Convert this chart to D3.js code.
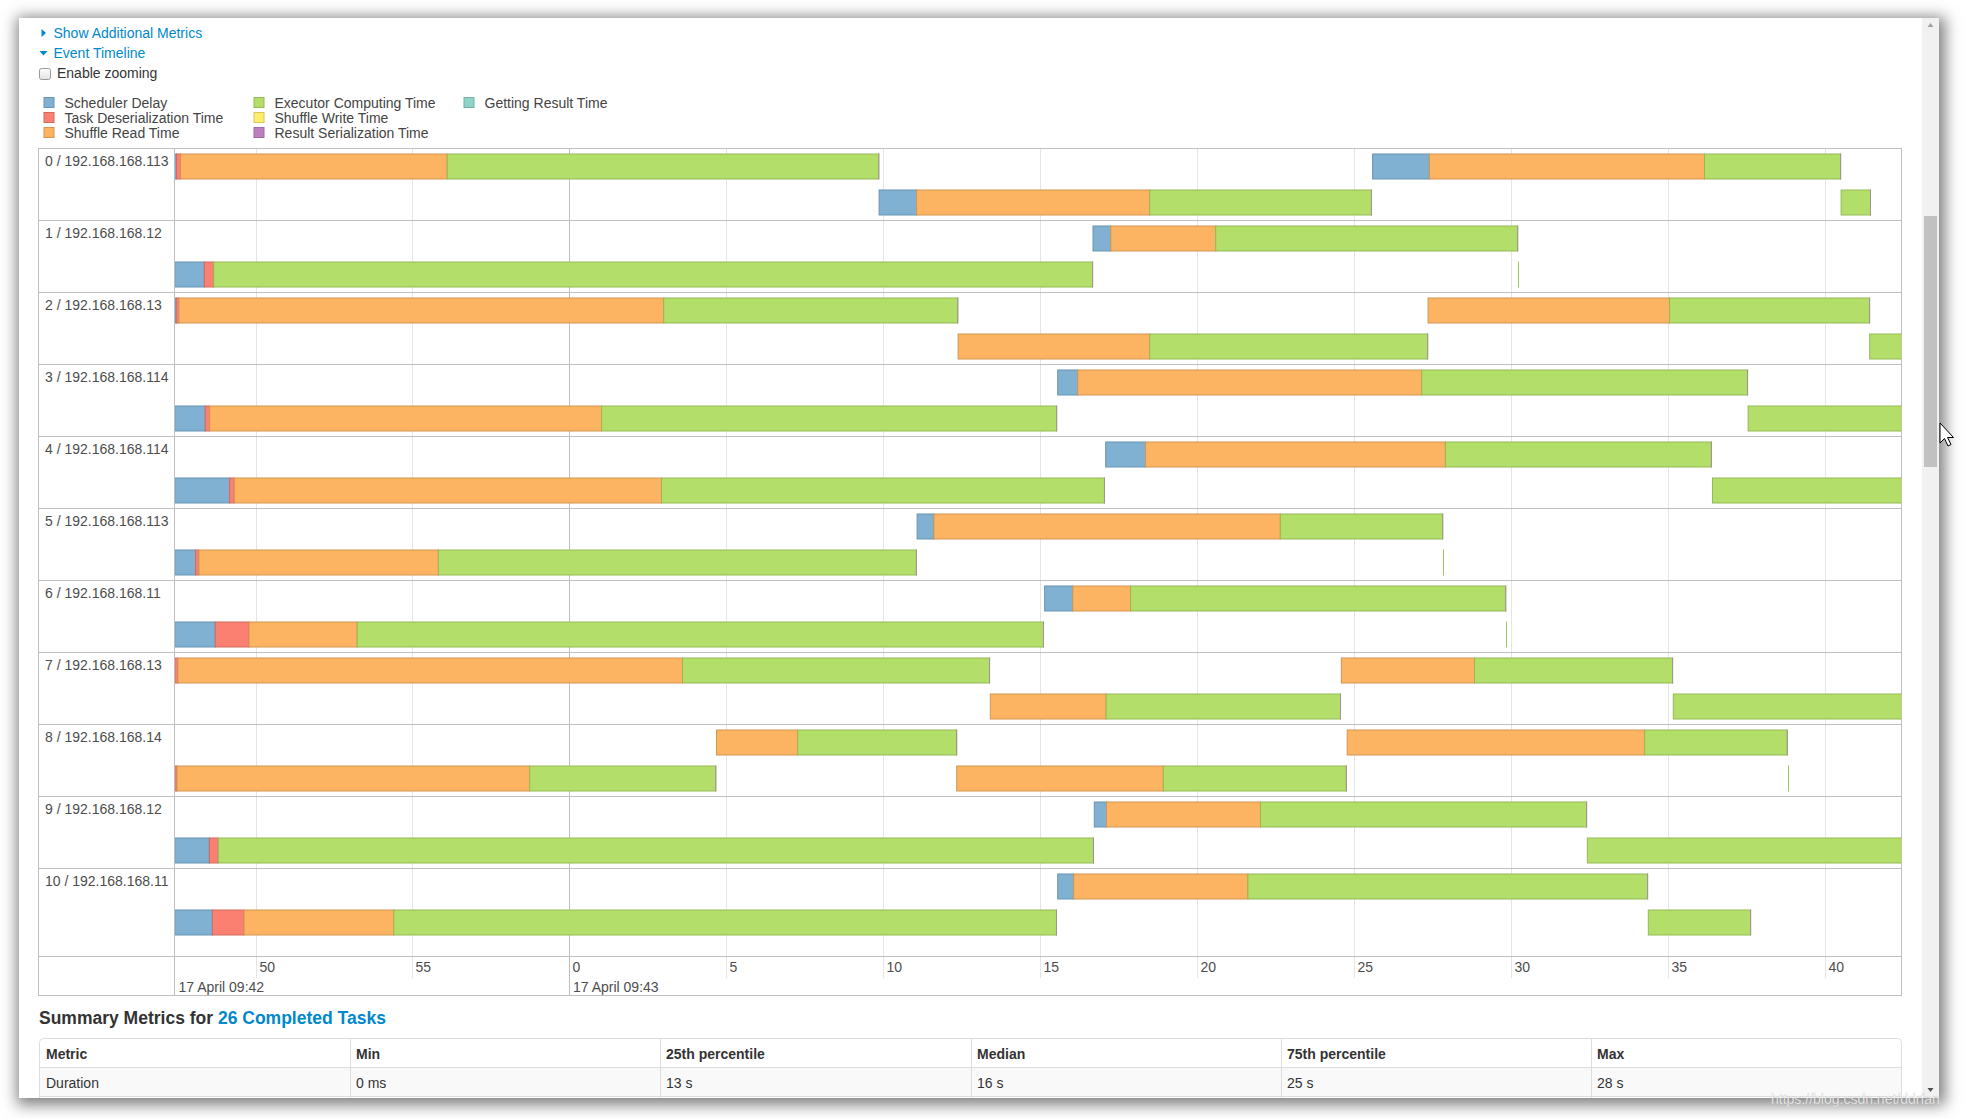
<!DOCTYPE html>
<html>
<head>
<meta charset="utf-8">
<script src="https://cdn.jsdelivr.net/npm/d3@7"></script>
<style>
html, body { margin:0; padding:0; background:#fff; width:1969px; height:1118px; overflow:hidden;
  font-family:"Liberation Sans", Arial, sans-serif; }
#win { position:absolute; left:19px; top:18px; width:1920px; height:1080px; background:#fff; overflow:hidden;
  box-shadow: 2px 3px 14px 4px rgba(0,0,0,0.5); }
#win svg, #over { position:absolute; left:0; top:0; }
#over { pointer-events:none; }
</style>
</head>
<body>
<div id="win"></div>
<svg id="over" width="1969" height="1118"></svg>
<script>
// ---------------- DATA ----------------
const executors = ["0 / 192.168.168.113","1 / 192.168.168.12","2 / 192.168.168.13","3 / 192.168.168.114",
  "4 / 192.168.168.114","5 / 192.168.168.113","6 / 192.168.168.11","7 / 192.168.168.13",
  "8 / 192.168.168.14","9 / 192.168.168.12","10 / 192.168.168.11"];
// task -> executor row and stacking lane (0 = upper, 1 = lower)
const taskExecutor = [0,0,0,0, 1,1,1, 2,2,2,2, 3,3,3, 4,4,4, 5,5,5, 6,6,6, 7,7,7,7, 8,8,8,8,8, 9,9,9, 10,10,10];
const taskLane     = [0,1,0,1, 1,0,1, 0,1,0,1, 1,0,1, 1,0,1, 1,0,1, 1,0,1, 0,1,0,1, 1,0,1,0,1, 1,0,1, 1,0,1];
// launch time, seconds relative to 17 April 09:43:00
const taskLaunch = [-12.59,9.852,25.577,40.505, -12.59,16.668,30.226, -12.59,12.369,27.345,41.416,
  -12.59,15.543,37.542, -12.59,17.072,36.407, -12.59,11.063,27.830, -12.59,15.126,29.840,
  -12.59,13.395,24.580,35.158, -12.59,4.671,12.325,24.767,38.822, -12.59,16.709,32.418,
  -12.59,15.543,34.362];
// durations in seconds
const schedulerDelay = [0.054,1.195,1.810,0, 0.940,0.567,0, 0.045,0,0,0, 0.969,0.640,0, 1.746,1.271,0,
  0.663,0.535,0, 1.290,0.899,0, 0,0,0,0, 0,0,0,0,0, 1.102,0.389,0, 1.198,0.510,0];
const taskDeserialization = [0.131,0,0,0, 0.300,0,0, 0.086,0,0,0, 0.143,0,0, 0.150,0,0,
  0.105,0,0, 1.074,0,0, 0.099,0,0,0, 0.070,0,0,0,0, 0.284,0,0, 1.007,0,0];
const shuffleReadTime = [8.495,7.427,8.766,0, 0,3.342,0, 15.447,6.105,7.695,0, 12.487,10.958,0,
  13.612,9.553,0, 7.631,11.038,0, 3.448,1.839,0, 16.078,3.690,4.244,0, 11.238,2.587,6.583,9.479,0,
  0,4.907,0, 4.773,5.551,0];
const executorComputingTime = [13.752,7.067,4.337,0.937, 28.005,9.623,0, 9.371,8.858,6.373,5.0,
  14.501,10.384,8.0, 14.115,8.476,8.0, 15.231,5.175,0, 21.868,11.955,0, 9.785,7.469,6.312,8.0,
  5.930,5.066,5.834,4.544,0, 27.887,10.391,12.0, 21.116,12.736,3.260];

const domainSec = [-12.59, 42.43];

const legendNames = ["Scheduler Delay","Task Deserialization Time","Shuffle Read Time",
  "Executor Computing Time","Shuffle Write Time","Result Serialization Time","Getting Result Time"];
const legendFill   = ["#80B1D3","#FB8072","#FDB462","#B3DE69","#FFED6F","#BC80BD","#8DD3C7"];
const legendStroke = ["#6B94B0","#D26B5F","#D39651","#95B957","#D5C65C","#9D6B9E","#75B0A6"];

const tableHeader = ["Metric","Min","25th percentile","Median","75th percentile","Max"];
const durationRow = ["Duration","0 ms","13 s","16 s","25 s","28 s"];

// ---------------- DRAW ----------------
const base = new Date(2020, 3, 17, 9, 43, 0);
const toDate = s => new Date(base.getTime() + s * 1000);

const svg = d3.select("#win").append("svg").attr("width", 1920).attr("height", 1080);
const g = svg.append("g").attr("transform", "translate(-19,-18)")
  .style("font-family", '"Liberation Sans", Arial, sans-serif');

// header links
const link = "#0088cc";
g.append("path").attr("d", "M41.5,29 L46,33 L41.5,37 Z").attr("fill", link);
g.append("text").attr("x", 53.5).attr("y", 37.5).attr("font-size", 14).attr("fill", link).text("Show Additional Metrics");
g.append("path").attr("d", "M39.5,51 L47.5,51 L43.5,55.5 Z").attr("fill", link);
g.append("text").attr("x", 53.5).attr("y", 57.5).attr("font-size", 14).attr("fill", link).text("Event Timeline");
// checkbox
const cbGrad = svg.append("defs").append("linearGradient").attr("id", "cbg").attr("x1", 0).attr("y1", 0).attr("x2", 0).attr("y2", 1);
cbGrad.append("stop").attr("offset", 0).attr("stop-color", "#fdfdfd");
cbGrad.append("stop").attr("offset", 1).attr("stop-color", "#e2e2e2");
g.append("rect").attr("x", 39.5).attr("y", 68.5).attr("width", 11).attr("height", 11).attr("rx", 2)
  .attr("fill", "url(#cbg)").attr("stroke", "#9a9a9a");
g.append("text").attr("x", 57).attr("y", 77.5).attr("font-size", 14).attr("fill", "#333").text("Enable zooming");

// legend
const legCol = [44, 254, 464];
const leg = g.append("g");
legendNames.forEach((n, i) => {
  const c = Math.floor(i / 3), r = i % 3;
  const lx = legCol[c], ly = 97.5 + r * 15;
  leg.append("rect").attr("x", lx).attr("y", ly).attr("width", 10).attr("height", 10)
    .attr("fill", legendFill[i]).attr("stroke", legendStroke[i]);
  leg.append("text").attr("x", lx + 20.5).attr("y", ly + 10.5).attr("font-size", 14).attr("fill", "#444").text(n);
});

// timeline frame
const top0 = 148, rowH = 72, lastRowH = 88;
const rowTop = i => top0 + rowH * i;
const chartBottom = rowTop(10) + lastRowH;       // 956
const axisBottom = chartBottom + 40;               // 996
const left = 38.5, labelX = 174.5, right = 1901.5;

const x = d3.scaleTime().domain(domainSec.map(toDate)).range([174.8, 1901.5]);

const frame = g.append("g");
// gridlines
const ticks = x.ticks(d3.timeSecond.every(5));
ticks.forEach(t => {
  const px = Math.floor(x(t)) + 0.5;
  const major = t.getSeconds() === 0;
  frame.append("line").attr("x1", px).attr("x2", px).attr("y1", top0)
    .attr("y2", major ? axisBottom : chartBottom + 22)
    .attr("stroke", major ? "#bfbfbf" : "#e5e5e5").attr("stroke-width", 1);
});
// row separators
for (let i = 0; i <= 10; i++) {
  frame.append("line").attr("x1", left).attr("x2", right).attr("y1", rowTop(i) + 0.5).attr("y2", rowTop(i) + 0.5)
    .attr("stroke", "#bfbfbf");
}
frame.append("line").attr("x1", left).attr("x2", right).attr("y1", chartBottom + 0.5).attr("y2", chartBottom + 0.5).attr("stroke", "#bfbfbf");
frame.append("line").attr("x1", left).attr("x2", right).attr("y1", axisBottom - 0.5).attr("y2", axisBottom - 0.5).attr("stroke", "#bfbfbf");
[left, labelX, right].forEach(px => frame.append("line").attr("x1", px).attr("x2", px).attr("y1", top0).attr("y2", axisBottom)
  .attr("stroke", "#bfbfbf"));

// row labels
executors.forEach((e, i) => {
  g.append("text").attr("x", 45).attr("y", rowTop(i) + 18).attr("font-size", 14).attr("fill", "#4d4d4d").text(e);
});

// axis labels
const fmtMinor = d3.timeFormat("%-S"), fmtMajor = d3.timeFormat("%-d %B %H:%M");
ticks.forEach(t => {
  g.append("text").attr("x", Math.floor(x(t)) + 3.5).attr("y", chartBottom + 16).attr("font-size", 14)
    .attr("fill", "#4d4d4d").text(fmtMinor(t));
});
const d0 = x.domain()[0];
g.append("text").attr("x", 178.5).attr("y", axisBottom - 4.5).attr("font-size", 14).attr("fill", "#4d4d4d")
  .text(fmtMajor(d3.timeMinute.floor(d0)));
d3.timeMinute.range(d0, x.domain()[1]).forEach(m => {
  g.append("text").attr("x", Math.floor(x(m)) + 4).attr("y", axisBottom - 4.5).attr("font-size", 14)
    .attr("fill", "#4d4d4d").text(fmtMajor(m));
});

// bars
svg.select("defs").append("clipPath").attr("id", "plotclip").append("rect")
  .attr("x", 175).attr("y", top0).attr("width", right - 175).attr("height", chartBottom - top0);
const bars = g.append("g").attr("clip-path", "url(#plotclip)");
const parts = [schedulerDelay, taskDeserialization, shuffleReadTime, executorComputingTime];
const barH = 25;
taskLaunch.forEach((launch, k) => {
  const y = rowTop(taskExecutor[k]) + 6 + taskLane[k] * 36;
  let cur = launch;
  const total = parts.reduce((a, p) => a + p[k], 0);
  if (total === 0) {
    const px = Math.floor(x(toDate(launch))) + 0.5;
    bars.append("line").attr("x1", px).attr("x2", px).attr("y1", y - 0.5).attr("y2", y + barH + 0.5)
      .attr("stroke", "#9cc85a");
    return;
  }
  parts.forEach((p, j) => {
    const d = p[k];
    if (d <= 0) return;
    const x0 = x(toDate(cur)), x1 = x(toDate(cur + d));
    bars.append("rect").attr("x", x0).attr("y", y).attr("width", Math.max(0, x1 - x0)).attr("height", barH)
      .attr("fill", legendFill[j]).attr("stroke", legendStroke[j]).attr("stroke-width", 1);
    cur += d;
  });
  const xe = x(toDate(cur));
  bars.append("line").attr("x1", xe).attr("x2", xe).attr("y1", y - 0.5).attr("y2", y + barH + 0.5)
    .attr("stroke", "#a3919f").attr("stroke-width", 1);
});

// summary heading
const h = g.append("text").attr("x", 39).attr("y", 1024).attr("font-size", 17.5).attr("font-weight", "bold").attr("fill", "#333");
h.append("tspan").text("Summary Metrics for ");
h.append("tspan").attr("fill", link).text("26 Completed Tasks");

// table
const colX = d3.scaleLinear().domain([0, 6]).range([39.5, 1901.5]);
const tb = g.append("g");
tb.append("rect").attr("x", 39.5).attr("y", 1067.5).attr("width", 1862).attr("height", 29).attr("fill", "#f9f9f9");
tb.append("rect").attr("x", 39.5).attr("y", 1038.5).attr("width", 1862).attr("height", 90).attr("rx", 4)
  .attr("fill", "none").attr("stroke", "#ddd");
[1067.5, 1096.5].forEach(yy => tb.append("line").attr("x1", 39.5).attr("x2", 1901.5).attr("y1", yy).attr("y2", yy).attr("stroke", "#ddd"));
for (let i = 1; i < 6; i++) {
  const px = Math.round(colX(i)) + 0.5;
  tb.append("line").attr("x1", px).attr("x2", px).attr("y1", 1038.5).attr("y2", 1130).attr("stroke", "#ddd");
}
tableHeader.forEach((t, i) => tb.append("text").attr("x", Math.round(colX(i)) + 6).attr("y", 1058.5)
  .attr("font-size", 14).attr("font-weight", "bold").attr("fill", "#333").text(t));
durationRow.forEach((t, i) => tb.append("text").attr("x", Math.round(colX(i)) + 6).attr("y", 1087.5)
  .attr("font-size", 14).attr("fill", "#333").text(t));

// scrollbar
g.append("rect").attr("x", 1922).attr("y", 18).attr("width", 17).attr("height", 1080).attr("fill", "#f1f1f1");
g.append("rect").attr("x", 1924).attr("y", 216).attr("width", 13).attr("height", 251).attr("fill", "#c1c1c1");
g.append("path").attr("d", "M1927.5,27 L1933.5,27 L1930.5,23 Z").attr("fill", "#a3a3a3");
g.append("path").attr("d", "M1927.5,1088 L1933.5,1088 L1930.5,1092 Z").attr("fill", "#505050");

// overlay: cursor + watermark
const ov = d3.select("#over");
ov.append("path").attr("d", "M1940,423 L1940,443 L1944.5,438.5 L1948,446 L1951,444.5 L1947.5,437.5 L1953.5,437.5 Z")
  .attr("fill", "#fff").attr("stroke", "#000").attr("stroke-width", 1);
ov.append("text").attr("x", 1771).attr("y", 1104).attr("font-size", 14)
  .attr("font-family", '"Liberation Sans", Arial, sans-serif')
  .attr("fill", "rgba(255,255,255,0.85)").attr("stroke", "rgba(150,150,150,0.35)").attr("stroke-width", 0.6)
  .text("https://blog.csdn.net/ddrfan");
</script>
</body>
</html>
